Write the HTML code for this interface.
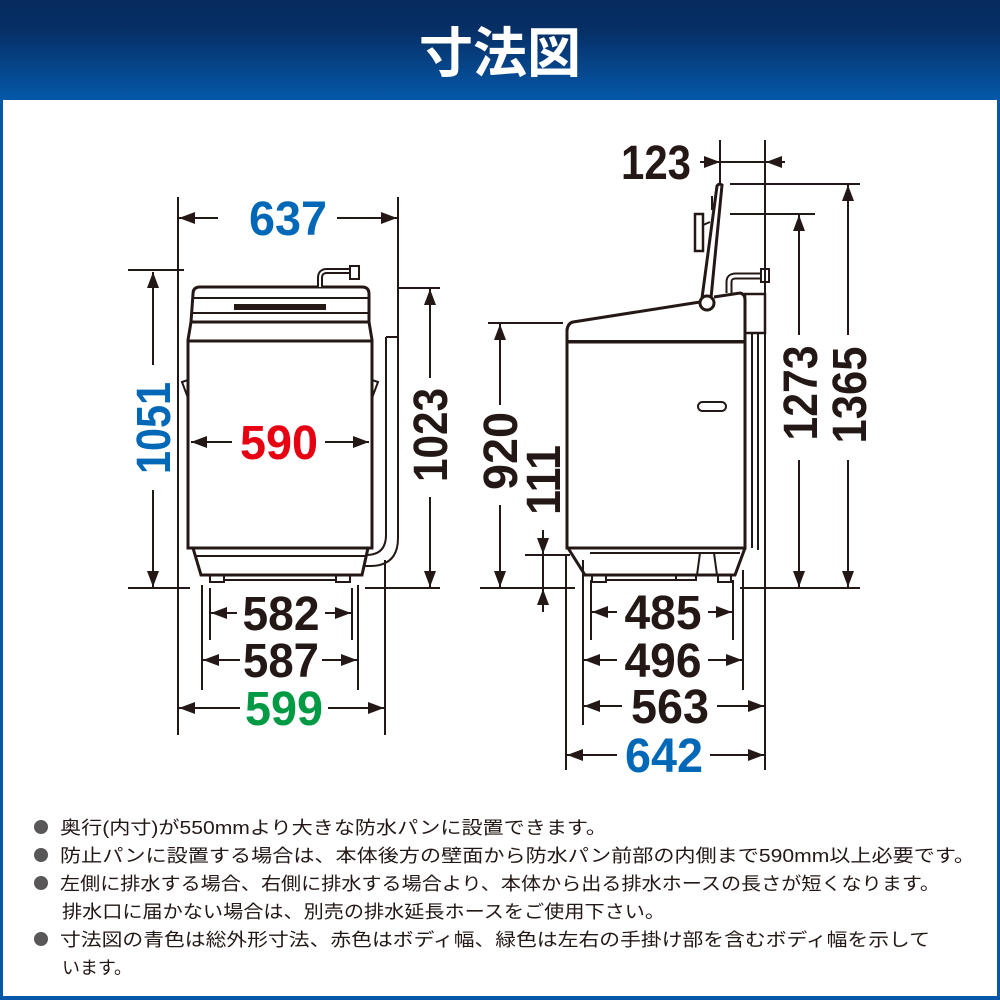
<!DOCTYPE html>
<html><head><meta charset="utf-8"><style>
html,body{margin:0;padding:0;background:#fff}
svg{display:block}
.n{font-family:"Liberation Sans",sans-serif;font-weight:bold;font-size:48px}
.t{font-family:"Liberation Sans","Noto Sans CJK JP",sans-serif;font-size:18px;fill:#231815}
</style></head><body>
<svg width="1000" height="1000" viewBox="0 0 1000 1000" xmlns="http://www.w3.org/2000/svg">
<defs>
<linearGradient id="hg" x1="0" y1="0" x2="0" y2="1"><stop offset="0" stop-color="#062b5c"/><stop offset="0.3" stop-color="#062f66"/><stop offset="1" stop-color="#0558a8"/></linearGradient>
<marker id="a" viewBox="0 0 16 12" refX="16" refY="6" markerWidth="16" markerHeight="12" markerUnits="userSpaceOnUse" orient="auto-start-reverse"><path d="M0,0 L16,6 L0,12 z" fill="#231815"/></marker>
</defs>
<rect x="0" y="0" width="1000" height="1000" fill="#0558a8"/>
<rect x="0" y="0" width="1000" height="100" fill="url(#hg)"/>
<rect x="3" y="100" width="994" height="896" fill="#fff"/>
<text x="500" y="72" text-anchor="middle" font-family="'Noto Sans CJK JP',sans-serif" font-weight="bold" font-size="54" fill="#fff">寸法図</text>

<g stroke="#231815" stroke-width="2" fill="none">
<!-- LEFT extension lines -->
<line x1="178" y1="197" x2="178" y2="735"/>
<line x1="398" y1="197" x2="398" y2="340"/>
<line x1="128" y1="270" x2="184" y2="270"/>
<line x1="128" y1="588" x2="190" y2="588"/>
<line x1="398" y1="288" x2="440" y2="288"/>
<line x1="365" y1="588" x2="440" y2="588"/>
<line x1="385" y1="560" x2="385" y2="735"/>
<line x1="202" y1="585" x2="202" y2="690"/>
<line x1="358" y1="585" x2="358" y2="690"/>
<line x1="210" y1="588" x2="210" y2="640"/>
<line x1="352" y1="588" x2="352" y2="640"/>
<!-- LEFT dims -->
<line x1="218" y1="218" x2="179" y2="218" marker-end="url(#a)"/>
<line x1="337" y1="218" x2="397" y2="218" marker-end="url(#a)"/>
<line x1="153" y1="365" x2="153" y2="272" marker-end="url(#a)"/>
<line x1="153" y1="490" x2="153" y2="587" marker-end="url(#a)"/>
<line x1="430" y1="378" x2="430" y2="289" marker-end="url(#a)"/>
<line x1="430" y1="497" x2="430" y2="587" marker-end="url(#a)"/>
<line x1="232" y1="442" x2="191" y2="442" marker-end="url(#a)"/>
<line x1="325" y1="442" x2="369" y2="442" marker-end="url(#a)"/>
<line x1="237" y1="613" x2="211" y2="613" marker-end="url(#a)"/>
<line x1="325" y1="613" x2="351" y2="613" marker-end="url(#a)"/>
<line x1="240" y1="660" x2="203" y2="660" marker-end="url(#a)"/>
<line x1="322" y1="660" x2="357" y2="660" marker-end="url(#a)"/>
<line x1="240" y1="708" x2="179" y2="708" marker-end="url(#a)"/>
<line x1="328" y1="708" x2="384" y2="708" marker-end="url(#a)"/>

<!-- LEFT machine -->
<path d="M193,294 Q193,287 200,287 L362,287 Q369,287 369,294 L369,322 L191,322 Z" stroke-width="3"/>
<line x1="192" y1="298" x2="368" y2="298"/>
<line x1="192" y1="313" x2="368" y2="313"/>
<rect x="234" y="304" width="92" height="6" fill="#231815" stroke="none"/>
<path d="M191,322 L188,340 L188,548 L372,548 L372,340 L369,322" stroke-width="3"/>
<line x1="188" y1="341" x2="372" y2="341" stroke-width="3"/>
<path d="M182,382 L188,380 L188,398 Z" stroke-width="2"/>
<path d="M378,382 L372,380 L372,398 Z" stroke-width="2"/>
<path d="M193,548 L201,575 L362,575 L368,548" stroke-width="3"/>
<line x1="196" y1="556" x2="366" y2="556"/>
<rect x="210" y="575" width="14" height="7"/>
<rect x="336" y="575" width="14" height="7"/>
<line x1="224" y1="580" x2="336" y2="580"/>
<path d="M320,287 L320,278 Q320,271 327,271 L350,271" stroke-width="6"/>
<path d="M320,287 L320,278 Q320,271 327,271 L350,271" stroke="#fff" stroke-width="2"/>
<rect x="350" y="266" width="9" height="13"/>
<path d="M386,337 L398,337 L398,538 Q398,566 370,566 L365,566 M386,337 L386,535 Q386,555 366,555" stroke-width="2"/>

<!-- RIGHT extension lines -->
<line x1="720" y1="140" x2="720" y2="185"/>
<line x1="765" y1="140" x2="765" y2="770"/>
<line x1="730" y1="184" x2="860" y2="184"/>
<line x1="730" y1="214" x2="815" y2="214"/>
<line x1="488" y1="323" x2="563" y2="323"/>
<line x1="525" y1="555" x2="570" y2="555"/>
<line x1="480" y1="588" x2="575" y2="588"/>
<line x1="740" y1="588" x2="860" y2="588"/>
<line x1="566" y1="555" x2="566" y2="770"/>
<line x1="583" y1="560" x2="583" y2="725"/>
<line x1="591" y1="580" x2="591" y2="640"/>
<line x1="733" y1="580" x2="733" y2="640"/>
<line x1="743" y1="570" x2="743" y2="690"/>
<!-- RIGHT dims -->
<line x1="700" y1="162" x2="720" y2="162" marker-end="url(#a)"/>
<line x1="720" y1="162" x2="785" y2="162"/>
<line x1="785" y1="162" x2="766" y2="162" marker-end="url(#a)"/>
<line x1="848" y1="335" x2="848" y2="185" marker-end="url(#a)"/>
<line x1="848" y1="460" x2="848" y2="587" marker-end="url(#a)"/>
<line x1="799" y1="335" x2="799" y2="215" marker-end="url(#a)"/>
<line x1="799" y1="460" x2="799" y2="587" marker-end="url(#a)"/>
<line x1="500" y1="405" x2="500" y2="324" marker-end="url(#a)"/>
<line x1="500" y1="505" x2="500" y2="587" marker-end="url(#a)"/>
<line x1="543" y1="530" x2="543" y2="554" marker-end="url(#a)"/>
<line x1="543" y1="612" x2="543" y2="589" marker-end="url(#a)"/>
<line x1="543" y1="554" x2="543" y2="589"/>
<line x1="617" y1="612" x2="592" y2="612" marker-end="url(#a)"/>
<line x1="708" y1="612" x2="732" y2="612" marker-end="url(#a)"/>
<line x1="617" y1="660" x2="584" y2="660" marker-end="url(#a)"/>
<line x1="708" y1="660" x2="742" y2="660" marker-end="url(#a)"/>
<line x1="622" y1="706" x2="584" y2="706" marker-end="url(#a)"/>
<line x1="717" y1="706" x2="764" y2="706" marker-end="url(#a)"/>
<line x1="617" y1="755" x2="567" y2="755" marker-end="url(#a)"/>
<line x1="710" y1="755" x2="764" y2="755" marker-end="url(#a)"/>

<!-- RIGHT machine -->
<path d="M567,342 L567,330 Q568,323 573,322 L700,302" stroke-width="3"/>
<path d="M714,297 L740,293 Q745,294 745,300 L745,548" stroke-width="3"/>
<rect x="567" y="342" width="178" height="206" stroke-width="3"/>
<line x1="567" y1="341" x2="745" y2="341" stroke-width="2"/>
<rect x="698" y="402" width="28" height="9" rx="4.5"/>
<rect x="745" y="294" width="20" height="39" stroke-width="2.5"/>
<path d="M752,333 L752,548 M758,333 L758,550" stroke-width="2"/>
<path d="M729,293 L729,282 Q729,276 736,276 L761,276" stroke-width="7"/>
<path d="M729,293 L729,282 Q729,276 736,276 L761,276" stroke="#fff" stroke-width="3"/>
<rect x="761" y="269" width="8" height="13" stroke-width="2"/>
<path d="M702,298 L717,186 Q719,183 722,185 L711,298" stroke-width="3"/>
<rect x="695" y="214" width="8" height="37" stroke-width="2.5"/>
<line x1="703" y1="225" x2="710" y2="222"/>
<line x1="712" y1="196" x2="712" y2="210"/>
<circle cx="707" cy="303" r="7" stroke-width="3"/>
<path d="M568,548 L585,575 L735,575 L745,548" stroke-width="3"/>
<line x1="590" y1="553" x2="740" y2="553"/>
<rect x="592" y="575" width="14" height="7"/>
<rect x="718" y="575" width="13" height="7"/>
<rect x="676" y="575" width="20" height="5"/>
<line x1="606" y1="580" x2="676" y2="580"/>
<line x1="700" y1="553" x2="697" y2="575"/>
<line x1="714" y1="553" x2="717" y2="575"/>
</g>

<!-- numbers -->
<g class="n">
<text x="288" y="235" fill="#0068b7" text-anchor="middle" textLength="78" lengthAdjust="spacingAndGlyphs">637</text>
<text x="279" y="459" fill="#e60012" text-anchor="middle" textLength="78" lengthAdjust="spacingAndGlyphs">590</text>
<text transform="translate(170,428) rotate(-90)" fill="#0068b7" text-anchor="middle" textLength="92" lengthAdjust="spacingAndGlyphs">1051</text>
<text transform="translate(447,435) rotate(-90)" fill="#231815" text-anchor="middle" textLength="94" lengthAdjust="spacingAndGlyphs">1023</text>
<text x="281" y="630" fill="#231815" text-anchor="middle" textLength="77" lengthAdjust="spacingAndGlyphs">582</text>
<text x="281" y="677" fill="#231815" text-anchor="middle" textLength="76" lengthAdjust="spacingAndGlyphs">587</text>
<text x="284" y="725" fill="#009944" text-anchor="middle" textLength="78" lengthAdjust="spacingAndGlyphs">599</text>
<text x="656" y="179" fill="#231815" text-anchor="middle" textLength="70" lengthAdjust="spacingAndGlyphs">123</text>
<text transform="translate(866,395) rotate(-90)" fill="#231815" text-anchor="middle" textLength="97" lengthAdjust="spacingAndGlyphs">1365</text>
<text transform="translate(817,393) rotate(-90)" fill="#231815" text-anchor="middle" textLength="95" lengthAdjust="spacingAndGlyphs">1273</text>
<text transform="translate(517,451) rotate(-90)" fill="#231815" text-anchor="middle" textLength="78" lengthAdjust="spacingAndGlyphs">920</text>
<text transform="translate(560,480) rotate(-90)" fill="#231815" text-anchor="middle" textLength="70" lengthAdjust="spacingAndGlyphs">111</text>
<text x="663" y="629" fill="#231815" text-anchor="middle" textLength="77" lengthAdjust="spacingAndGlyphs">485</text>
<text x="663" y="677" fill="#231815" text-anchor="middle" textLength="77" lengthAdjust="spacingAndGlyphs">496</text>
<text x="670" y="723" fill="#231815" text-anchor="middle" textLength="78" lengthAdjust="spacingAndGlyphs">563</text>
<text x="664" y="772" fill="#0068b7" text-anchor="middle" textLength="78" lengthAdjust="spacingAndGlyphs">642</text>
</g>

<!-- notes -->
<g fill="#595757">
<circle cx="41" cy="827" r="7"/><circle cx="41" cy="855" r="7"/><circle cx="41" cy="883" r="7"/><circle cx="41" cy="939" r="7"/>
</g>
<text class="t" x="60" y="834" textLength="547" lengthAdjust="spacingAndGlyphs">奥行(内寸)が550mmより大きな防水パンに設置できます。</text>
<text class="t" x="60" y="862" textLength="915" lengthAdjust="spacingAndGlyphs">防止パンに設置する場合は、本体後方の壁面から防水パン前部の内側まで590mm以上必要です。</text>
<text class="t" x="60" y="890" textLength="880" lengthAdjust="spacingAndGlyphs">左側に排水する場合、右側に排水する場合より、本体から出る排水ホースの長さが短くなります。</text>
<text class="t" x="62" y="918" textLength="603" lengthAdjust="spacingAndGlyphs">排水口に届かない場合は、別売の排水延長ホースをご使用下さい。</text>
<text class="t" x="60" y="946" textLength="870" lengthAdjust="spacingAndGlyphs">寸法図の青色は総外形寸法、赤色はボディ幅、緑色は左右の手掛け部を含むボディ幅を示して</text>
<text class="t" x="62" y="974" textLength="70" lengthAdjust="spacingAndGlyphs">います。</text>
</svg>
</body></html>
